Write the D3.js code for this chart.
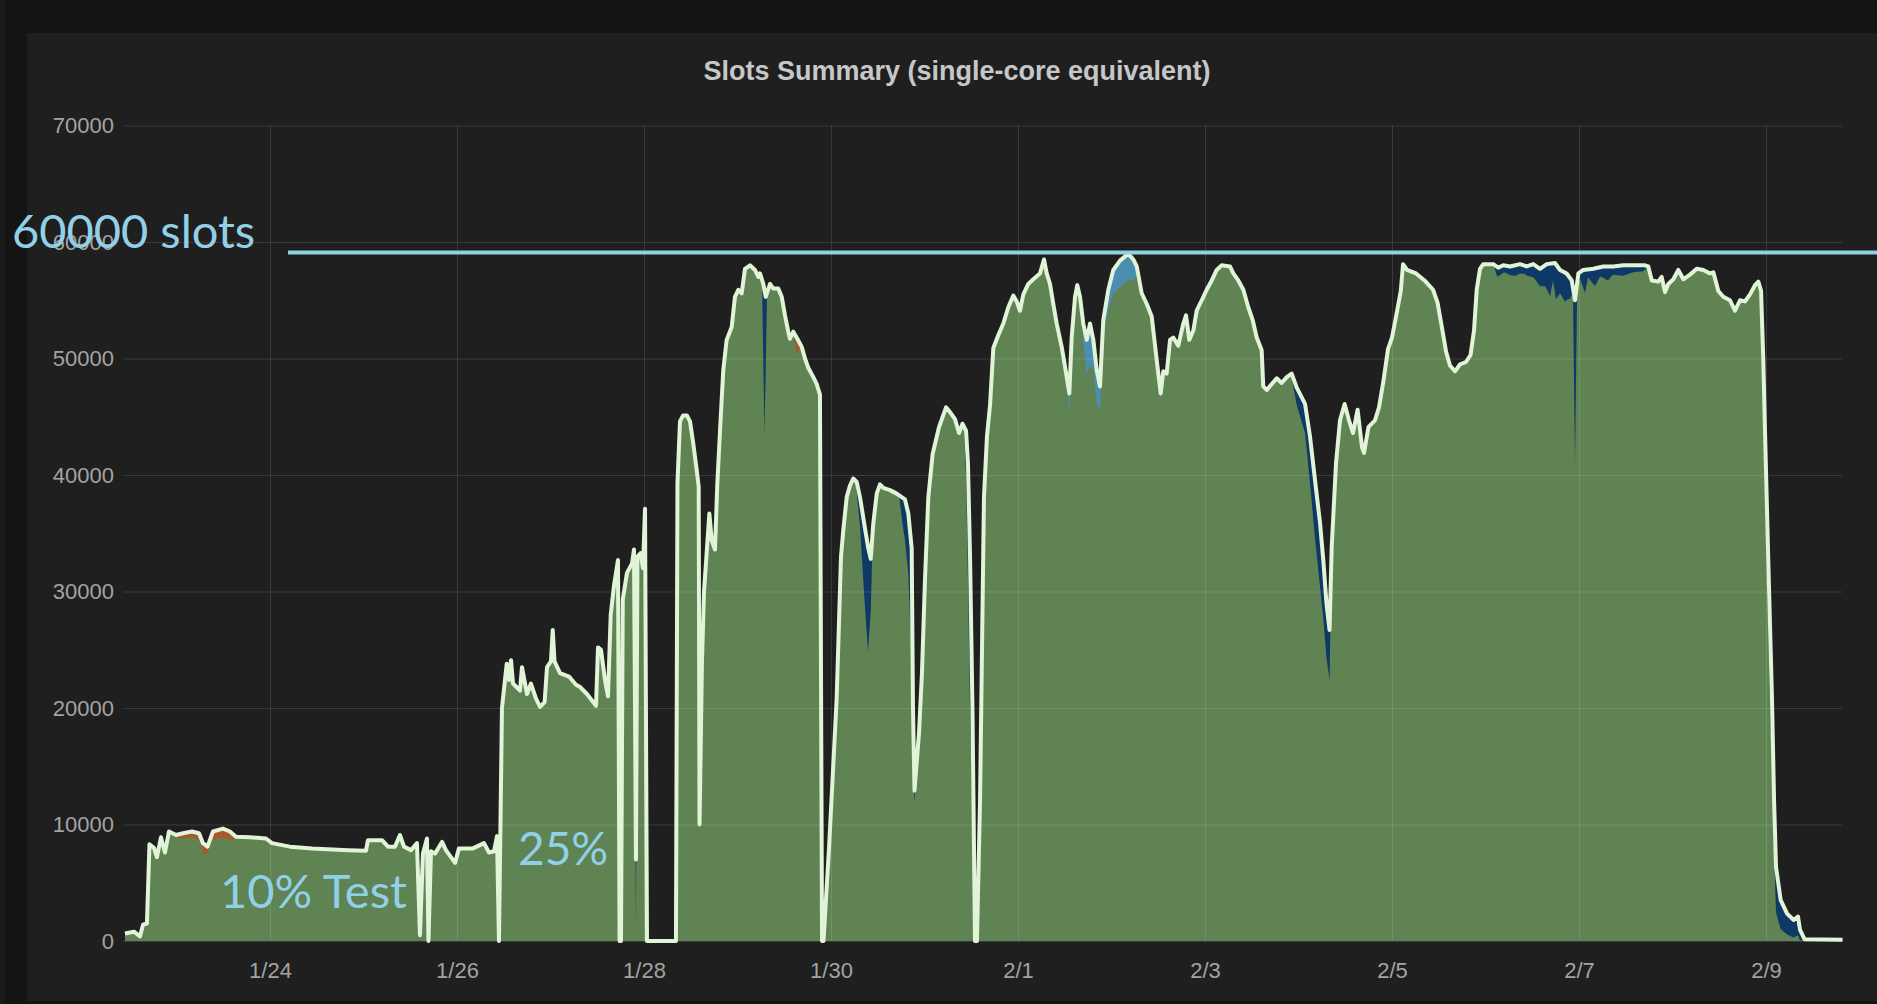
<!DOCTYPE html>
<html>
<head>
<meta charset="utf-8">
<title>Slots Summary</title>
<script src="https://cdn.jsdelivr.net/npm/d3@7/dist/d3.min.js"></script>
<style>
  html, body { margin: 0; padding: 0; background: #141414; overflow: hidden; }
  svg { display: block; }
</style>
</head>
<body>
<div id="chart"></div>
<script>
// ---- data (days = days after 2016-01-22 00:00, values = slots) ----
const chartTitle = "Slots Summary (single-core equivalent)";
const yTicks = [0, 10000, 20000, 30000, 40000, 50000, 60000, 70000];
const xTicks = ["2016-01-24", "2016-01-26", "2016-01-28", "2016-01-30", "2016-02-01",
                "2016-02-03", "2016-02-05", "2016-02-07", "2016-02-09"];
const viewDays = [0.428, 18.818];

// total slots (pale line, top of the stack)
const totalSlots = [
  [0.449, 650], [0.545, 800], [0.610, 400], [0.642, 1400], [0.684, 1500], [0.711, 8300],
  [0.759, 8000], [0.791, 7200], [0.834, 8900], [0.877, 7600], [0.920, 9400], [0.995, 9100],
  [1.070, 9250], [1.166, 9400], [1.241, 9250], [1.283, 8400], [1.332, 8100], [1.390, 9400],
  [1.497, 9650], [1.572, 9400], [1.636, 8950], [1.786, 8900], [1.957, 8800], [2.021, 8400],
  [2.214, 8100], [2.449, 7950], [2.834, 7800], [3.027, 7750], [3.048, 8650], [3.198, 8650],
  [3.262, 8100], [3.337, 8100], [3.390, 9100], [3.433, 8100], [3.508, 7800], [3.572, 8400],
  [3.604, 500], [3.636, 7500], [3.679, 8800], [3.695, 0], [3.722, 7700], [3.765, 7500],
  [3.840, 8500], [3.882, 7800], [3.979, 6700], [4.021, 7950], [4.171, 7950], [4.289, 8400],
  [4.342, 7600], [4.396, 7700], [4.428, 9000], [4.449, 0], [4.481, 20000], [4.532, 23800],
  [4.556, 22400], [4.578, 24100], [4.599, 22100], [4.674, 21500], [4.695, 23500], [4.749, 21200],
  [4.791, 22100], [4.845, 20800], [4.888, 20100], [4.937, 20500], [4.963, 23500], [5.005, 24000],
  [5.024, 26700], [5.043, 24000], [5.102, 23000], [5.198, 22700], [5.273, 22000], [5.316, 21800],
  [5.390, 21200], [5.487, 20200], [5.508, 25200], [5.540, 25000], [5.583, 22400], [5.615, 21000],
  [5.644, 28000], [5.679, 30500], [5.722, 32700], [5.739, 0], [5.754, 0], [5.773, 29300],
  [5.818, 31600], [5.872, 32400], [5.893, 33600], [5.914, 7000], [5.930, 33000], [5.964, 33300],
  [5.989, 32000], [6.011, 37100], [6.032, 0], [6.342, 0], [6.358, 39300], [6.385, 44600],
  [6.417, 45100], [6.460, 45100], [6.492, 44600], [6.527, 42700], [6.564, 40400], [6.585, 39000],
  [6.594, 10000], [6.620, 24000], [6.642, 30000], [6.671, 33400], [6.699, 36700], [6.724, 34400],
  [6.759, 33600], [6.784, 39200], [6.813, 43800], [6.848, 49000], [6.884, 51600], [6.938, 52700],
  [6.973, 55300], [7.009, 55900], [7.045, 55600], [7.080, 57700], [7.134, 58000], [7.187, 57600],
  [7.223, 57000], [7.241, 57300], [7.276, 56400], [7.302, 55300], [7.348, 56400], [7.383, 56000],
  [7.436, 56000], [7.473, 55300], [7.508, 53700], [7.543, 52300], [7.561, 51700], [7.597, 52300],
  [7.640, 51700], [7.687, 51000], [7.722, 50000], [7.757, 49200], [7.811, 48400], [7.847, 47800],
  [7.882, 46900], [7.904, 0], [7.920, 0], [7.979, 8000], [8.060, 20700], [8.107, 33000],
  [8.132, 35300], [8.168, 38100], [8.203, 39100], [8.238, 39700], [8.275, 39400], [8.310, 38100],
  [8.364, 35400], [8.399, 33700], [8.425, 32800], [8.452, 35800], [8.489, 38400], [8.524, 39200],
  [8.559, 38900], [8.631, 38700], [8.703, 38400], [8.756, 38100], [8.791, 37900], [8.827, 36700],
  [8.863, 33700], [8.877, 20000], [8.893, 12900], [8.941, 17800], [8.973, 23000], [9.005, 31000],
  [9.041, 38100], [9.087, 41800], [9.155, 44100], [9.230, 45800], [9.273, 45400], [9.326, 44800],
  [9.369, 43600], [9.406, 44400], [9.444, 43800], [9.465, 41000], [9.487, 33000], [9.513, 20000],
  [9.540, 0], [9.561, 0], [9.594, 12000], [9.615, 25000], [9.636, 38100], [9.668, 43300],
  [9.701, 46000], [9.736, 50900], [9.789, 52000], [9.843, 53000], [9.896, 54400], [9.950, 55400],
  [9.986, 54900], [10.021, 54100], [10.057, 55500], [10.110, 56400], [10.164, 56800], [10.235, 57300],
  [10.278, 58500], [10.307, 57300], [10.342, 56400], [10.377, 54700], [10.414, 53000], [10.467, 51000],
  [10.503, 49300], [10.549, 47000], [10.574, 51800], [10.610, 55300], [10.634, 56300], [10.663, 55300],
  [10.698, 53000], [10.735, 51600], [10.770, 53000], [10.806, 51600], [10.842, 49000], [10.877, 47600],
  [10.912, 53300], [10.966, 55900], [11.019, 57600], [11.091, 58400], [11.180, 59000], [11.233, 58500],
  [11.270, 57900], [11.323, 55600], [11.376, 54700], [11.430, 53600], [11.483, 49900], [11.526, 47000],
  [11.554, 48900], [11.590, 48700], [11.626, 51600], [11.661, 51800], [11.714, 51100], [11.768, 53000],
  [11.797, 53700], [11.832, 51600], [11.875, 52400], [11.911, 54100], [11.965, 55000], [12.018, 55900],
  [12.072, 56700], [12.125, 57600], [12.179, 58000], [12.267, 57900], [12.303, 57300], [12.356, 56700],
  [12.410, 55900], [12.463, 54400], [12.510, 53300], [12.553, 51800], [12.606, 50700], [12.623, 47600],
  [12.660, 47300], [12.713, 47800], [12.767, 48300], [12.820, 47900], [12.874, 48400], [12.927, 48700],
  [12.981, 47500], [13.070, 46100], [13.123, 43300], [13.176, 39600], [13.230, 35900], [13.265, 32700],
  [13.299, 29000], [13.332, 26700], [13.355, 33800], [13.401, 41000], [13.444, 44700], [13.493, 46100],
  [13.540, 44700], [13.583, 43600], [13.632, 45600], [13.679, 42400], [13.701, 41900], [13.748, 44100],
  [13.818, 44700], [13.861, 45800], [13.909, 48100], [13.957, 50800], [14.000, 51800], [14.048, 53800],
  [14.094, 55800], [14.118, 58100], [14.160, 57600], [14.257, 57300], [14.348, 56700], [14.439, 55900],
  [14.487, 54800], [14.533, 52700], [14.578, 50600], [14.620, 49400], [14.674, 48900], [14.727, 49500],
  [14.791, 49700], [14.840, 50300], [14.877, 52400], [14.906, 55900], [14.941, 57700], [14.976, 58100],
  [15.083, 58100], [15.136, 57800], [15.190, 58000], [15.262, 57900], [15.369, 58100], [15.440, 57900],
  [15.511, 58100], [15.583, 57700], [15.655, 58100], [15.743, 58200], [15.797, 57600], [15.868, 57300],
  [15.922, 56700], [15.957, 55000], [15.993, 57300], [16.046, 57600], [16.153, 57700], [16.260, 57900],
  [16.367, 57900], [16.474, 58000], [16.581, 58000], [16.706, 58000], [16.741, 57900], [16.778, 56700],
  [16.848, 56600], [16.884, 57000], [16.920, 55700], [16.955, 56400], [17.009, 56800], [17.062, 57600],
  [17.116, 56800], [17.187, 57200], [17.259, 57700], [17.330, 57600], [17.401, 57300], [17.437, 57400],
  [17.490, 55800], [17.543, 55300], [17.615, 55000], [17.668, 54100], [17.722, 55000], [17.775, 54900],
  [17.829, 55500], [17.882, 56300], [17.918, 56600], [17.947, 55800], [17.971, 49900], [17.989, 43800],
  [18.007, 38100], [18.024, 32700], [18.064, 20700], [18.086, 12100], [18.107, 6350], [18.157, 3500],
  [18.225, 2350], [18.296, 1800], [18.342, 2100], [18.364, 950], [18.412, 150], [18.818, 100]
];

// stacked series that show through under the total line
const navySlots = [
  [5.877, 0], [5.914, 5800], [5.925, 0],
  [7.262, 0], [7.288, 12300], [7.316, 0],
  [8.257, 0], [8.310, 2500], [8.353, 6000], [8.396, 9000], [8.428, 4000], [8.449, 0],
  [8.727, 0], [8.770, 2500], [8.824, 5000], [8.863, 9000], [8.877, 5000], [8.893, 1100], [8.909, 0],
  [9.422, 0], [9.444, 4000], [9.465, 10000], [9.487, 13000], [9.513, 10000], [9.529, 5000], [9.540, 0],
  [12.909, 0], [12.981, 1500], [13.070, 2500], [13.123, 4000], [13.176, 5000], [13.230, 5500],
  [13.265, 5000], [13.332, 4300], [13.350, 0],
  [15.080, 0], [15.123, 800], [15.209, 600], [15.316, 900], [15.422, 700], [15.529, 1200],
  [15.636, 1800], [15.690, 2800], [15.722, 1500], [15.754, 3000], [15.797, 2000], [15.850, 2500],
  [15.904, 1800], [15.936, 800], [15.957, 14000], [15.979, 1000], [16.011, 600], [16.064, 2000],
  [16.096, 700], [16.171, 1500], [16.225, 800], [16.310, 1200], [16.364, 700], [16.471, 900],
  [16.578, 600], [16.684, 500], [16.759, 0],
  [17.914, 0], [17.947, 1500], [17.971, 4000], [18.007, 6000], [18.043, 6500], [18.086, 4500],
  [18.157, 2500], [18.225, 1800], [18.296, 1500], [18.342, 1600], [18.374, 700], [18.417, 0]
];
const tealSlots = [
  [10.481, 0], [10.549, 1500], [10.578, 0], [10.674, 0], [10.698, 1500], [10.735, 3000],
  [10.770, 3500], [10.806, 2500], [10.842, 2800], [10.877, 2000], [10.912, 1200], [10.966, 1800],
  [11.019, 2000], [11.091, 2300], [11.180, 2200], [11.233, 1800], [11.270, 800], [11.323, 0]
];
const orangeSlots = [
  [0.984, 0], [1.037, 400], [1.166, 500], [1.251, 600], [1.294, 900], [1.337, 500],
  [1.412, 700], [1.519, 800], [1.594, 600], [1.658, 0],
  [7.594, 0], [7.636, 1500], [7.679, 0]
];

// hand-drawn reference line
const refSlots = 59100;
const refFromDay = 2.193;

// ---- drawing ----
const width = 1877;
const height = 1004;
const plot = { left: 123, right: 1842.5, top: 125.5, bottom: 941 };

const origin = d3.timeParse("%Y-%m-%d")("2016-01-22");
const toDate = d => new Date(origin.getTime() + d * 864e5);
const parseTick = d3.timeParse("%Y-%m-%d");

const svg = d3.select("#chart").append("svg")
    .attr("width", width)
    .attr("height", height);

// background / panel
svg.append("rect").attr("width", width).attr("height", height).attr("fill", "#141414");
svg.append("rect").attr("x", 0).attr("y", 0).attr("width", 5).attr("height", height).attr("fill", "#1b1b1b");
svg.append("rect").attr("x", 27).attr("y", 33).attr("width", width - 27).attr("height", 1001 - 33)
    .attr("fill", "#1f1f1f");

const x = d3.scaleTime()
    .domain(viewDays.map(toDate))
    .range([plot.left, plot.right]);
const y = d3.scaleLinear()
    .domain([0, 70000])
    .range([plot.bottom, plot.top]);

const totalAt = d3.scaleLinear()
    .domain(totalSlots.map(d => d[0]))
    .range(totalSlots.map(d => d[1]));

// title
svg.append("text")
    .attr("x", 957)
    .attr("y", 80)
    .attr("text-anchor", "middle")
    .attr("fill", "#c6c7c8")
    .style("font-family", "'Liberation Sans', Arial, Helvetica, sans-serif")
    .style("font-weight", "bold")
    .style("font-size", "27px")
    .text(chartTitle);

// green area under the total
const area = d3.area()
    .x(d => x(toDate(d[0])))
    .y0(y(0))
    .y1(d => y(d[1]));

svg.append("path")
    .datum(totalSlots)
    .attr("d", area)
    .attr("fill", "#5f8353");

// bands for the other stacked series: from (total - value) up to total
function bandRows(pts) {
    const ld = pts.map(p => p[0]);
    const layerAt = d3.scaleLinear().domain(ld).range(pts.map(p => p[1])).clamp(true);
    const lo = ld[0], hi = ld[ld.length - 1];
    const ds = Array.from(new Set(ld.concat(totalSlots.map(d => d[0]).filter(d => d > lo && d < hi))))
        .sort(d3.ascending);
    return ds.map(d => {
        const top = totalAt(d);
        return { d: d, top: top, bottom: Math.max(0, top - layerAt(d)) };
    });
}
const band = d3.area()
    .x(r => x(toDate(r.d)))
    .y0(r => y(r.bottom))
    .y1(r => y(r.top));

[[orangeSlots, "#a9582b"], [navySlots, "#0e3866"], [tealSlots, "#4a8fb2"]].forEach(function (s) {
    svg.append("path")
        .datum(bandRows(s[0]))
        .attr("d", band)
        .attr("fill", s[1]);
});

// grid lines (drawn over the fill, faint)
svg.append("g")
    .attr("transform", `translate(${plot.left},0)`)
    .call(d3.axisLeft(y).tickValues(yTicks).tickSize(-(plot.right - plot.left)).tickFormat(""))
    .call(g => g.select(".domain").remove())
    .selectAll("line")
    .attr("stroke", "rgba(255,255,255,0.12)");

svg.append("g")
    .attr("transform", `translate(0,${plot.bottom})`)
    .call(d3.axisBottom(x).tickValues(xTicks.map(parseTick)).tickSize(-(plot.bottom - plot.top)).tickFormat(""))
    .call(g => g.select(".domain").remove())
    .selectAll("line")
    .attr("stroke", "rgba(255,255,255,0.12)");

// tick labels
const labelFont = "'Liberation Sans', Arial, Helvetica, sans-serif";
const yAxis = svg.append("g")
    .attr("transform", `translate(${plot.left},0)`)
    .call(d3.axisLeft(y).tickValues(yTicks).tickSize(0).tickPadding(9).tickFormat(d3.format("d")));
yAxis.select(".domain").remove();
yAxis.selectAll("text")
    .attr("fill", "#a3a3a3")
    .style("font-family", labelFont)
    .style("font-size", "22px");

const xAxis = svg.append("g")
    .attr("transform", `translate(0,${plot.bottom})`)
    .call(d3.axisBottom(x).tickValues(xTicks.map(parseTick)).tickSize(0).tickPadding(21)
        .tickFormat(d3.timeFormat("%-m/%-d")));
xAxis.select(".domain").remove();
xAxis.selectAll("text")
    .attr("fill", "#a3a3a3")
    .style("font-family", labelFont)
    .style("font-size", "22px");

// total line
const line = d3.line()
    .x(d => x(toDate(d[0])))
    .y(d => y(d[1]));
svg.append("path")
    .datum(totalSlots)
    .attr("d", line)
    .attr("fill", "none")
    .attr("stroke", "#e1f4d7")
    .attr("stroke-width", 4)
    .attr("stroke-linejoin", "round");

// reference line + notes
svg.append("line")
    .attr("x1", x(toDate(refFromDay)))
    .attr("x2", width)
    .attr("y1", y(refSlots))
    .attr("y2", y(refSlots))
    .attr("stroke", "#8fd0e6")
    .attr("stroke-width", 4);

const notes = [
    { text: "60000 slots", x: 12, y: 248, size: 47 },
    { text: "10% Test", x: 220, y: 908, size: 47 },
    { text: "25%", x: 518, y: 865, size: 46 }
];
svg.selectAll(".note")
    .data(notes)
    .enter()
    .append("text")
    .attr("class", "note")
    .attr("x", d => d.x)
    .attr("y", d => d.y)
    .attr("fill", "#92d0e8")
    .style("font-family", "Lato, 'Open Sans', sans-serif")
    .style("font-size", d => d.size + "px")
    .text(d => d.text);
</script>
</body>
</html>
